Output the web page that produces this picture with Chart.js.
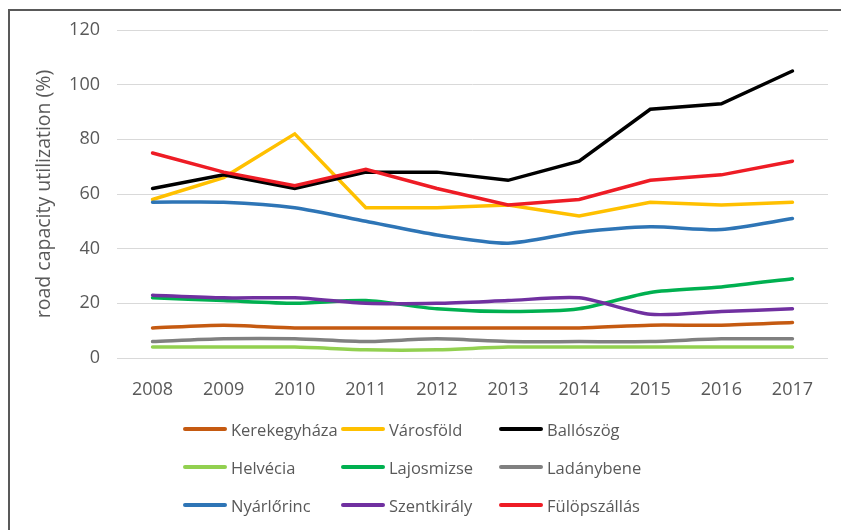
<!DOCTYPE html>
<html>
<head>
<meta charset="utf-8">
<script src="https://cdn.jsdelivr.net/npm/chart.js@4.4.1/dist/chart.umd.min.js"></script>
<style>
  body { margin: 0; background: #fff; }
  #wrap { position: relative; width: 841px; height: 530px; overflow: hidden; }
  #frame { position: absolute; left: 8px; top: 9px; width: 900px; height: 600px;
           border-left: 2px solid #595959; border-top: 2px solid #595959; }
  #legend { position: absolute; left: 0; top: 0; font-family: "Open Sans", sans-serif;
            font-size: 16.5px; color: #595959; }
  .item { position: absolute; height: 24px; display: flex; align-items: center; white-space: nowrap; }
  .swatch { width: 44px; height: 4px; border-radius: 2px; margin-right: 4px; }
</style>
</head>
<body>
<div id="wrap">
  <canvas id="myChart" width="841" height="530"></canvas>
  <div id="frame"></div>
  <div id="legend"></div>
</div>
<script>
var years = ["2008","2009","2010","2011","2012","2013","2014","2015","2016","2017"];
var yTicks = [0, 20, 40, 60, 80, 100, 120];

var kerekegyhaza = [11, 12, 11, 11, 11, 11, 11, 12, 12, 13];
var varosfold    = [58, 66, 82, 55, 55, 56, 52, 57, 56, 57];
var ballo        = [62, 67, 62, 68, 68, 65, 72, 91, 93, 105];
var helvecia     = [4, 4, 4, 3, 3, 4, 4, 4, 4, 4];
var lajosmizse   = [22, 21, 20, 21, 18, 17, 18, 24, 26, 29];
var ladanybene   = [6, 7, 7, 6, 7, 6, 6, 6, 7, 7];
var nyarlorinc   = [57, 57, 55, 50, 45, 42, 46, 48, 47, 51];
var szentkiraly  = [23, 22, 22, 20, 20, 21, 22, 16, 17, 18];
var fulop        = [75, 68, 63, 69, 62, 56, 58, 65, 67, 72];

var names  = ["Kerekegyháza","Városföld","Ballószög","Helvécia","Lajosmizse","Ladánybene","Nyárlőrinc","Szentkirály","Fülöpszállás"];
var values = [kerekegyhaza, varosfold, ballo, helvecia, lajosmizse, ladanybene, nyarlorinc, szentkiraly, fulop];
var colors = ["#C55A11","#FFC000","#000000","#92D050","#00B050","#808080","#2E75B6","#7030A0","#EE1C25"];
var smooth = [0.25, 0, 0, 0.25, 0.25, 0.25, 0.25, 0.25, 0];

var textColor = "#595959";
var font = "'Open Sans', sans-serif";

var datasets = names.map(function (n, i) {
    return {
        label: n,
        data: values[i],
        borderColor: colors[i],
        backgroundColor: colors[i],
        borderWidth: 3.5,
        pointRadius: 0,
        tension: smooth[i],
        borderCapStyle: "round",
        order: names.length - i
    };
});

var chart = new Chart(document.getElementById("myChart"), {
    type: 'line',
    data: { labels: years, datasets: datasets },
    options: {
        responsive: false,
        maintainAspectRatio: false,
        animation: false,
        layout: { padding: { left: 0, right: 13, top: 30, bottom: 132 } },
        plugins: { legend: { display: false }, tooltip: { enabled: false } },
        scales: {
            x: {
                offset: true,
                grid: { display: false },
                border: { display: false },
                ticks: { color: textColor, padding: 13, font: { family: font, size: 18 } },
                afterFit: function (s) { s.height = 40; }
            },
            y: {
                min: 0, max: 120,
                afterBuildTicks: function (s) { s.ticks = yTicks.map(function (v) { return { value: v }; }); },
                grid: { color: "#D9D9D9", lineWidth: 1, drawTicks: false },
                border: { display: false },
                ticks: { color: textColor, padding: 17, font: { family: font, size: 18 } },
                title: {
                    display: true,
                    text: "road capacity utilization (%)",
                    color: textColor,
                    font: { family: font, size: 19.5 },
                    padding: { top: 33, bottom: 0 }
                },
                afterFit: function (s) { s.width = 117; }
            }
        }
    }
});

// legend, 3 columns x 3 rows, built from the chart datasets
var legend = document.getElementById("legend");
chart.data.datasets.forEach(function (ds, i) {
    var col = i % 3, row = Math.floor(i / 3);
    var item = document.createElement("div");
    item.className = "item";
    item.style.left = (183 + col * 158) + "px";
    item.style.top = (429 + row * 38 - 12) + "px";
    var sw = document.createElement("span");
    sw.className = "swatch";
    sw.style.background = ds.borderColor;
    var tx = document.createElement("span");
    tx.textContent = ds.label;
    item.appendChild(sw);
    item.appendChild(tx);
    legend.appendChild(item);
});
</script>
</body>
</html>
